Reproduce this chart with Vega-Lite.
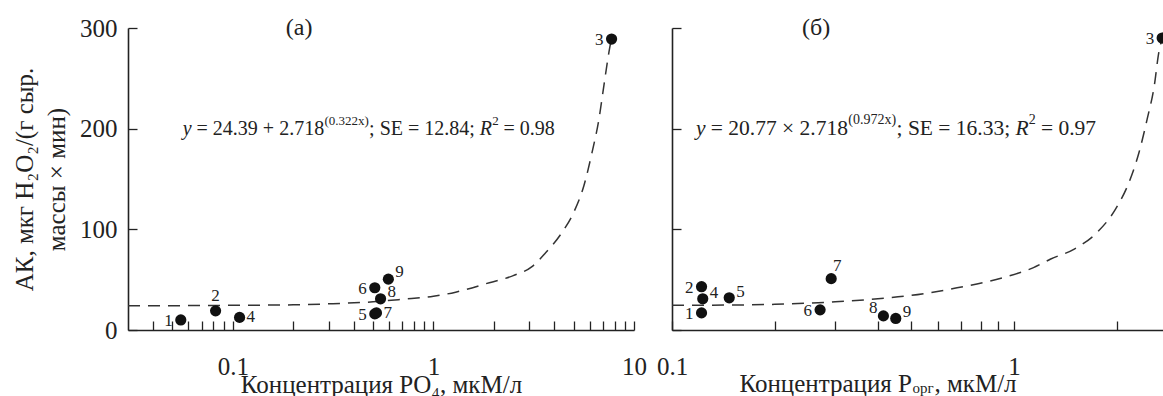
{
  "$schema": "https://vega.github.io/schema/vega-lite/v6.json",
  "background": "white",
  "padding": {"left": 12, "top": 16, "right": 0, "bottom": 0},
  "spacing": 9,
  "config": {
    "font": "Liberation Serif",
    "view": {"stroke": null},
    "axis": {
      "grid": false,
      "labelFont": "Liberation Serif",
      "labelFontSize": 25,
      "labelColor": "#222",
      "titleFont": "Liberation Serif",
      "titleFontSize": 25,
      "titleFontWeight": "normal",
      "titleColor": "#222",
      "domainColor": "#222",
      "domainWidth": 1.6,
      "tickColor": "#222",
      "tickWidth": 1.3,
      "tickSize": -9,
      "labelFlush": false,
      "labelOverlap": false
    },
    "text": {"font": "Liberation Serif", "color": "#222"}
  },
  "datasets": {
    "pa": [
      {"n": "1", "x": 0.055, "y": 10, "pos": "l"},
      {"n": "2", "x": 0.082, "y": 19, "pos": "a"},
      {"n": "3", "x": 7.73, "y": 289, "pos": "l"},
      {"n": "4", "x": 0.108, "y": 12.5, "pos": "r"},
      {"n": "5", "x": 0.51, "y": 16, "pos": "l"},
      {"n": "6", "x": 0.51, "y": 42, "pos": "l"},
      {"n": "7", "x": 0.52, "y": 17, "pos": "r"},
      {"n": "8", "x": 0.545, "y": 31, "pos": "ur"},
      {"n": "9", "x": 0.596, "y": 50.5, "pos": "ur"}
    ],
    "pb": [
      {"n": "1", "x": 0.122, "y": 17, "pos": "l"},
      {"n": "2", "x": 0.122, "y": 43, "pos": "l"},
      {"n": "3", "x": 2.71, "y": 290, "pos": "l"},
      {"n": "4", "x": 0.123, "y": 31, "pos": "ur"},
      {"n": "5", "x": 0.147, "y": 32, "pos": "ur"},
      {"n": "6", "x": 0.271, "y": 20, "pos": "l"},
      {"n": "7", "x": 0.292, "y": 51, "pos": "ar"},
      {"n": "8", "x": 0.415, "y": 14, "pos": "ul"},
      {"n": "9", "x": 0.451, "y": 11.5, "pos": "ur"}
    ],
    "ca": [
      {"x": 0.03, "y": 24}, {"x": 0.1, "y": 24.5}, {"x": 0.2, "y": 25}, {"x": 0.3, "y": 26},
      {"x": 0.5, "y": 28}, {"x": 0.7, "y": 30.5}, {"x": 1.0, "y": 33.5}, {"x": 1.29, "y": 37.6},
      {"x": 1.9, "y": 47}, {"x": 2.5, "y": 54}, {"x": 3.1, "y": 63}, {"x": 3.6, "y": 76},
      {"x": 4.38, "y": 97}, {"x": 5.01, "y": 117}, {"x": 5.62, "y": 143}, {"x": 6.17, "y": 176},
      {"x": 6.68, "y": 209}, {"x": 7.08, "y": 243}, {"x": 7.5, "y": 276}, {"x": 7.73, "y": 290}
    ],
    "cb": [
      {"x": 0.1, "y": 24.5}, {"x": 0.15, "y": 24.8}, {"x": 0.2, "y": 25.5}, {"x": 0.3, "y": 28},
      {"x": 0.4, "y": 31}, {"x": 0.49, "y": 34}, {"x": 0.67, "y": 41.4}, {"x": 0.935, "y": 52.3},
      {"x": 1.14, "y": 62}, {"x": 1.28, "y": 70.5}, {"x": 1.5, "y": 80.4}, {"x": 1.75, "y": 97},
      {"x": 1.98, "y": 120}, {"x": 2.17, "y": 147}, {"x": 2.32, "y": 176.5}, {"x": 2.45, "y": 209.5},
      {"x": 2.57, "y": 242.6}, {"x": 2.65, "y": 275.8}, {"x": 2.71, "y": 290}, {"x": 2.76, "y": 302}
    ],
    "eqa": [{"a": "y", "b": "= 24.39 + 2.718", "c": "(0.322x)", "d": "; SE = 12.84;", "e": "R", "f": "2", "g": "= 0.98"}],
    "eqb": [{"a": "y", "b": "= 20.77 × 2.718", "c": "(0.972x)", "d": "; SE = 16.33;", "e": "R", "f": "2", "g": "= 0.97"}],
    "tb": [{"a": "Концентрация P", "b": "орг", "c": ", мкМ/л"}]
  },
  "hconcat": [
    {
      "width": 506,
      "height": 302,
      "layer": [
        {"data": {"name": "ca"},
         "mark": {"type": "line", "strokeDash": [12, 8], "color": "#333", "strokeWidth": 1.5, "interpolate": "monotone"},
         "encoding": {
           "x": {"field": "x", "type": "quantitative",
             "scale": {"type": "log", "domain": [0.03, 10], "nice": false},
             "axis": {
               "title": "Концентрация PO₄, мкМ/л",
               "values": [0.04, 0.05, 0.06, 0.07, 0.08, 0.09, 0.1, 0.2, 0.3, 0.4, 0.5, 0.6, 0.7, 0.8, 0.9, 1, 2, 3, 4, 5, 6, 7, 8, 9, 10],
               "format": "~g",
               "labelExpr": "datum.value == 0.1 || datum.value == 1 || datum.value == 10 ? datum.label : ''",
               "labelPadding": 33,
               "titlePadding": -7
             }
           },
           "y": {"field": "y", "type": "quantitative",
             "scale": {"domain": [0, 300], "nice": false},
             "axis": {
               "title": ["АК, мкг H₂O₂/(г сыр.", "массы × мин)"],
               "values": [0, 100, 200, 300],
               "labelPadding": 20,
               "titlePadding": 10,
               "titleLineHeight": 32
             }
           }
         }},
        {"data": {"name": "pa"}, "mark": {"type": "circle", "size": 125, "color": "#111", "opacity": 1},
         "encoding": {"x": {"field": "x", "type": "quantitative", "scale": {"type": "log", "domain": [0.03, 10], "nice": false}}, "y": {"field": "y", "type": "quantitative", "scale": {"domain": [0, 300], "nice": false}}}},
        {"data": {"name": "pa"}, "transform": [{"filter": "datum.pos == 'l'"}],
         "mark": {"type": "text", "fontSize": 17, "align": "right", "baseline": "middle", "dx": -8, "dy": 1},
         "encoding": {"x": {"field": "x", "type": "quantitative", "scale": {"type": "log", "domain": [0.03, 10], "nice": false}}, "y": {"field": "y", "type": "quantitative", "scale": {"domain": [0, 300], "nice": false}}, "text": {"field": "n"}}},
        {"data": {"name": "pa"}, "transform": [{"filter": "datum.pos == 'r'"}],
         "mark": {"type": "text", "fontSize": 17, "align": "left", "baseline": "middle", "dx": 7, "dy": 0},
         "encoding": {"x": {"field": "x", "type": "quantitative", "scale": {"type": "log", "domain": [0.03, 10], "nice": false}}, "y": {"field": "y", "type": "quantitative", "scale": {"domain": [0, 300], "nice": false}}, "text": {"field": "n"}}},
        {"data": {"name": "pa"}, "transform": [{"filter": "datum.pos == 'ur'"}],
         "mark": {"type": "text", "fontSize": 17, "align": "left", "baseline": "middle", "dx": 7, "dy": -7},
         "encoding": {"x": {"field": "x", "type": "quantitative", "scale": {"type": "log", "domain": [0.03, 10], "nice": false}}, "y": {"field": "y", "type": "quantitative", "scale": {"domain": [0, 300], "nice": false}}, "text": {"field": "n"}}},
        {"data": {"name": "pa"}, "transform": [{"filter": "datum.pos == 'a'"}],
         "mark": {"type": "text", "fontSize": 17, "align": "center", "baseline": "middle", "dx": 0, "dy": -15},
         "encoding": {"x": {"field": "x", "type": "quantitative", "scale": {"type": "log", "domain": [0.03, 10], "nice": false}}, "y": {"field": "y", "type": "quantitative", "scale": {"domain": [0, 300], "nice": false}}, "text": {"field": "n"}}},
        {"data": {"name": "eqa"},
         "encoding": {"x": {"datum": 0.0562, "type": "quantitative", "scale": {"type": "log", "domain": [0.03, 10], "nice": false}}, "y": {"datum": 200, "type": "quantitative", "scale": {"domain": [0, 300], "nice": false}}},
         "layer": [
           {"mark": {"type": "text", "fontSize": 20, "fontStyle": "italic", "align": "left", "baseline": "middle", "dx": 0}, "encoding": {"text": {"field": "a"}}},
           {"mark": {"type": "text", "fontSize": 20, "align": "left", "baseline": "middle", "dx": 13.9}, "encoding": {"text": {"field": "b"}}},
           {"mark": {"type": "text", "fontSize": 13, "align": "left", "baseline": "middle", "dx": 141.8, "dy": -8}, "encoding": {"text": {"field": "c"}}},
           {"mark": {"type": "text", "fontSize": 20, "align": "left", "baseline": "middle", "dx": 186.4}, "encoding": {"text": {"field": "d"}}},
           {"mark": {"type": "text", "fontSize": 20, "fontStyle": "italic", "align": "left", "baseline": "middle", "dx": 297}, "encoding": {"text": {"field": "e"}}},
           {"mark": {"type": "text", "fontSize": 13, "align": "left", "baseline": "middle", "dx": 309.5, "dy": -8}, "encoding": {"text": {"field": "f"}}},
           {"mark": {"type": "text", "fontSize": 20, "align": "left", "baseline": "middle", "dx": 320.8}, "encoding": {"text": {"field": "g"}}}
         ]},
        {"data": {"values": [{"t": "(а)"}]},
         "mark": {"type": "text", "fontSize": 24, "align": "center", "baseline": "middle"},
         "encoding": {"x": {"datum": 0.214, "type": "quantitative", "scale": {"type": "log", "domain": [0.03, 10], "nice": false}}, "y": {"datum": 300, "type": "quantitative", "scale": {"domain": [0, 300], "nice": false}}, "text": {"field": "t"}}}
      ]
    },
    {
      "width": 495,
      "height": 302,
      "layer": [
        {"data": {"name": "cb"},
         "mark": {"type": "line", "strokeDash": [12, 8], "color": "#333", "strokeWidth": 1.5, "interpolate": "monotone"},
         "encoding": {
           "x": {"field": "x", "type": "quantitative",
             "scale": {"type": "log", "domain": [0.1, 2.8], "nice": false},
             "axis": {
               "title": null,
               "values": [0.1, 0.2, 0.3, 0.4, 0.5, 0.6, 0.7, 0.8, 0.9, 1, 2],
               "format": "~g",
               "labelExpr": "datum.value == 0.1 || datum.value == 1 ? datum.label : ''",
               "labelPadding": 33
             }
           },
           "y": {"field": "y", "type": "quantitative",
             "scale": {"domain": [0, 300], "nice": false},
             "axis": {"title": null, "labels": false, "values": [0, 100, 200, 300]}
           }
         }},
        {"data": {"name": "pb"}, "mark": {"type": "circle", "size": 125, "color": "#111", "opacity": 1},
         "encoding": {"x": {"field": "x", "type": "quantitative", "scale": {"type": "log", "domain": [0.1, 2.8], "nice": false}}, "y": {"field": "y", "type": "quantitative", "scale": {"domain": [0, 300], "nice": false}}}},
        {"data": {"name": "pb"}, "transform": [{"filter": "datum.pos == 'l'"}],
         "mark": {"type": "text", "fontSize": 17, "align": "right", "baseline": "middle", "dx": -8, "dy": 1},
         "encoding": {"x": {"field": "x", "type": "quantitative", "scale": {"type": "log", "domain": [0.1, 2.8], "nice": false}}, "y": {"field": "y", "type": "quantitative", "scale": {"domain": [0, 300], "nice": false}}, "text": {"field": "n"}}},
        {"data": {"name": "pb"}, "transform": [{"filter": "datum.pos == 'ur'"}],
         "mark": {"type": "text", "fontSize": 17, "align": "left", "baseline": "middle", "dx": 7, "dy": -6},
         "encoding": {"x": {"field": "x", "type": "quantitative", "scale": {"type": "log", "domain": [0.1, 2.8], "nice": false}}, "y": {"field": "y", "type": "quantitative", "scale": {"domain": [0, 300], "nice": false}}, "text": {"field": "n"}}},
        {"data": {"name": "pb"}, "transform": [{"filter": "datum.pos == 'ul'"}],
         "mark": {"type": "text", "fontSize": 17, "align": "right", "baseline": "middle", "dx": -6, "dy": -8},
         "encoding": {"x": {"field": "x", "type": "quantitative", "scale": {"type": "log", "domain": [0.1, 2.8], "nice": false}}, "y": {"field": "y", "type": "quantitative", "scale": {"domain": [0, 300], "nice": false}}, "text": {"field": "n"}}},
        {"data": {"name": "pb"}, "transform": [{"filter": "datum.pos == 'ar'"}],
         "mark": {"type": "text", "fontSize": 17, "align": "center", "baseline": "middle", "dx": 6, "dy": -13},
         "encoding": {"x": {"field": "x", "type": "quantitative", "scale": {"type": "log", "domain": [0.1, 2.8], "nice": false}}, "y": {"field": "y", "type": "quantitative", "scale": {"domain": [0, 300], "nice": false}}, "text": {"field": "n"}}},
        {"data": {"name": "eqb"},
         "encoding": {"x": {"datum": 0.1175, "type": "quantitative", "scale": {"type": "log", "domain": [0.1, 2.8], "nice": false}}, "y": {"datum": 200, "type": "quantitative", "scale": {"domain": [0, 300], "nice": false}}},
         "layer": [
           {"mark": {"type": "text", "fontSize": 21.5, "fontStyle": "italic", "align": "left", "baseline": "middle", "dx": 0}, "encoding": {"text": {"field": "a"}}},
           {"mark": {"type": "text", "fontSize": 21.5, "align": "left", "baseline": "middle", "dx": 14.9}, "encoding": {"text": {"field": "b"}}},
           {"mark": {"type": "text", "fontSize": 14, "align": "left", "baseline": "middle", "dx": 152.4, "dy": -8.5}, "encoding": {"text": {"field": "c"}}},
           {"mark": {"type": "text", "fontSize": 21.5, "align": "left", "baseline": "middle", "dx": 200.6}, "encoding": {"text": {"field": "d"}}},
           {"mark": {"type": "text", "fontSize": 21.5, "fontStyle": "italic", "align": "left", "baseline": "middle", "dx": 319.5}, "encoding": {"text": {"field": "e"}}},
           {"mark": {"type": "text", "fontSize": 14, "align": "left", "baseline": "middle", "dx": 332.7, "dy": -8.5}, "encoding": {"text": {"field": "f"}}},
           {"mark": {"type": "text", "fontSize": 21.5, "align": "left", "baseline": "middle", "dx": 345}, "encoding": {"text": {"field": "g"}}}
         ]},
        {"data": {"values": [{"t": "(б)"}]},
         "mark": {"type": "text", "fontSize": 24, "align": "center", "baseline": "middle"},
         "encoding": {"x": {"datum": 0.264, "type": "quantitative", "scale": {"type": "log", "domain": [0.1, 2.8], "nice": false}}, "y": {"datum": 300, "type": "quantitative", "scale": {"domain": [0, 300], "nice": false}}, "text": {"field": "t"}}},
        {"data": {"name": "tb"},
         "encoding": {"x": {"datum": 0.503, "type": "quantitative", "scale": {"type": "log", "domain": [0.1, 2.8], "nice": false}}, "y": {"datum": 0, "type": "quantitative", "scale": {"domain": [0, 300], "nice": false}}},
         "layer": [
           {"mark": {"type": "text", "fontSize": 25, "align": "right", "baseline": "middle", "dy": 54}, "encoding": {"text": {"field": "a"}}},
           {"mark": {"type": "text", "fontSize": 15, "align": "left", "baseline": "middle", "dx": 0.5, "dy": 58}, "encoding": {"text": {"field": "b"}}},
           {"mark": {"type": "text", "fontSize": 25, "align": "left", "baseline": "middle", "dx": 22.5, "dy": 54}, "encoding": {"text": {"field": "c"}}}
         ]}
      ]
    }
  ]
}
